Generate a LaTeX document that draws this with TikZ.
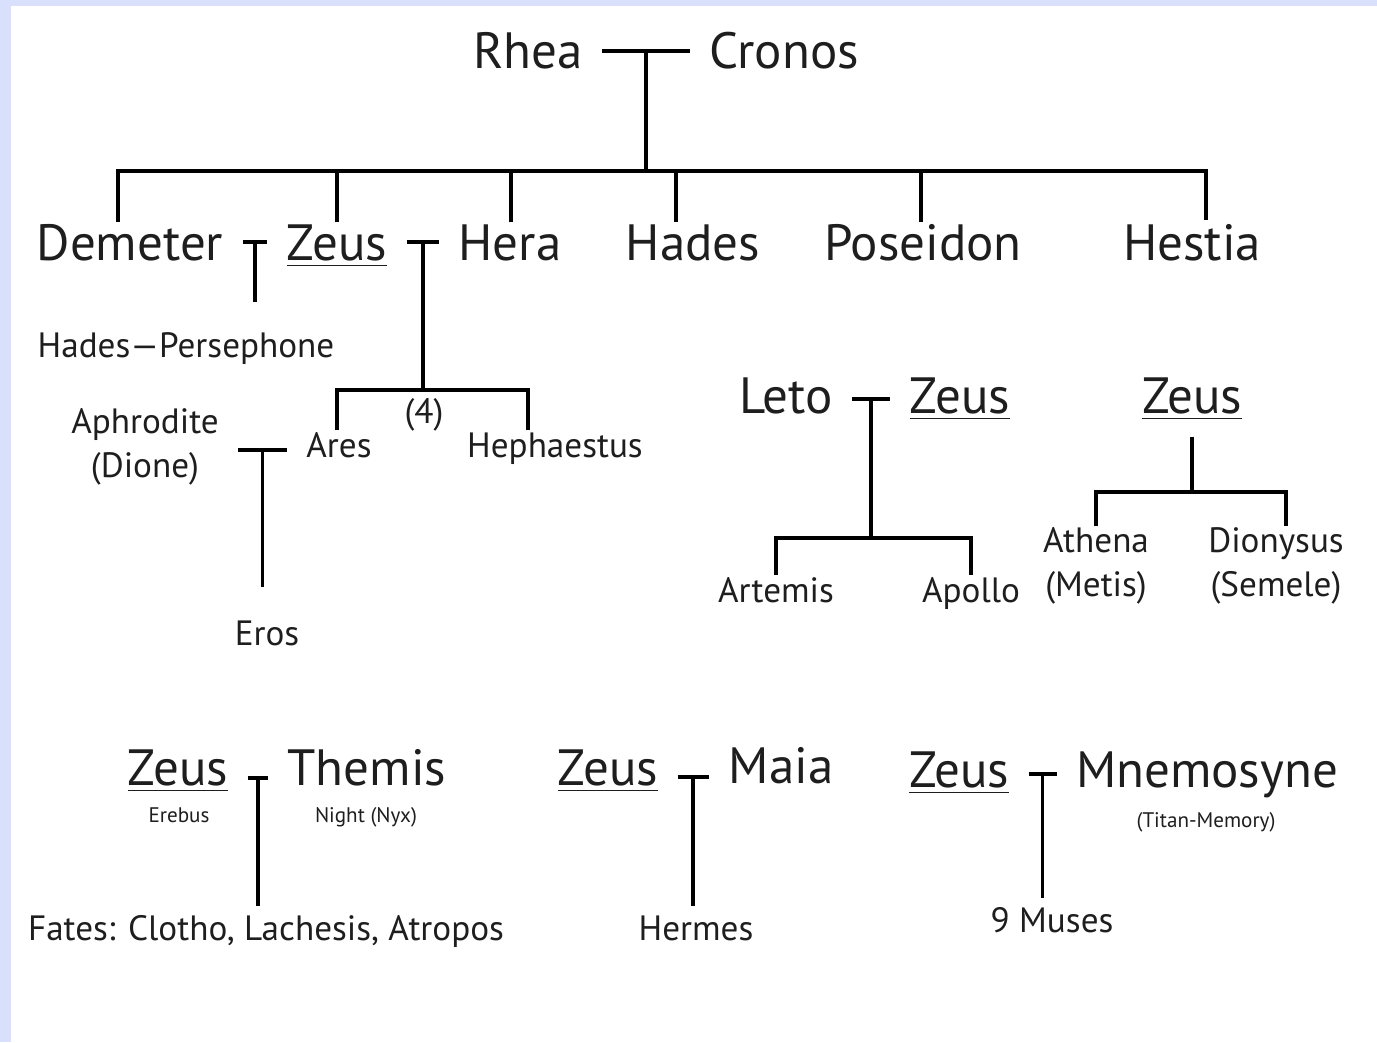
\documentclass[tikz,border=0pt]{standalone}
\usepackage{fontspec}
\setmainfont{PT Sans}
\usetikzlibrary{calc}
\definecolor{cornice}{RGB}{216,224,252}
\definecolor{inchiostro}{RGB}{30,30,30}

\begin{document}
\begin{tikzpicture}[x=0.01cm,y=-0.01cm,line width=1.1pt,
    titan/.style={font=\fontsize{14.5}{17}\selectfont,text=inchiostro,anchor=base,inner sep=0pt},
    kin/.style={font=\fontsize{10}{12.5}\selectfont,text=inchiostro,anchor=base,inner sep=0pt},
    aside/.style={font=\fontsize{6}{7}\selectfont,text=inchiostro,anchor=base,inner sep=0pt},
    wed/.style={shorten <=5pt,shorten >=5pt}]
  \useasboundingbox (0,0) rectangle (1377,1042);
  \fill[cornice] (0,0) rectangle (1377,1042); %cornice
  \fill[white] (11,6) rectangle (1377,1042);

  % Rhea e Cronos
  \node[titan] (rhea) at (528,68) {Rhea};
  \node[titan] (cronos) at (784,68) {Cronos};
  \coordinate (bar) at (641,171);
  \node[titan] (demeter) at (130,260) {Demeter};
  \node[titan] (zeus) at (337,260) {\underline{Zeus}};
  \node[titan] (hera) at (510,260) {Hera};
  \node[titan] (hades) at (693,260) {Hades};
  \node[titan] (poseidon) at (923,260) {Poseidon};
  \node[titan] (hestia) at (1192,260) {Hestia};
  \coordinate (rc) at ($(rhea.mid east)!.5!(cronos.mid west)+(0,-8)$);
  \draw[wed] (rc -| rhea.east) -- (rc -| cronos.west);
  \draw (rc) -- (rc |- bar);
  \draw ($(demeter.north)+(-12,0)$) |- (bar) -| ($(hestia.north)+(14,-2)$);
  \foreach \g/\dx in {zeus/0,hera/1,hades/-17,poseidon/-2}
    \draw ($(\g.north)+(\dx,0)$) |- (bar);

  % Demeter e Zeus
  \node[kin] (hp) at (186,357) {Hades---Persephone};
  \coordinate (dz) at ($(demeter.mid east)!.5!(zeus.mid west)+(0,-9)$);
  \draw[wed] (dz -| demeter.east) -- (dz -| zeus.west);
  \draw[shorten >=8pt] (dz) -- (dz |- hp.north);

  % Zeus e Hera
  \node[kin] (ares) at (339,457) {Ares};
  \node[kin] (heph) at (555,457) {Hephaestus};
  \node[kin] (four) at (424,423) {(4)};
  \coordinate (br1) at (424,390);
  \coordinate (zh) at ($(zeus.mid east)!.5!(hera.mid west)+(0,-9)$);
  \draw[wed] (zh -| zeus.east) -- (zh -| hera.west);
  \draw (zh) -- (zh |- br1);
  \draw ($(ares.north)+(-2,0)$) |- (br1) -| ($(heph.north)+(-27,0)$);

  % Aphrodite e Ares
  \node[kin,align=center,anchor=center] (aphro) at (145,447) {Aphrodite\\(Dione)};
  \node[kin] (eros) at (267,645) {Eros};
  \coordinate (aa) at ($(aphro.east)!.5!(aphro.east -| ares.west)+(0,3)$);
  \draw[wed] (aa -| aphro.east) -- (aa -| ares.west);
  \draw[shorten >=9pt] (aa) -- (aa |- eros.north);

  % Leto e Zeus
  \node[titan] (leto) at (786,413) {Leto};
  \node[titan] (zeusL) at (960,413) {\underline{Zeus}};
  \node[kin] (artemis) at (776,602) {Artemis};
  \node[kin] (apollo) at (971,602) {Apollo};
  \coordinate (br2) at (871,538);
  \coordinate (lz) at ($(leto.mid east)!.5!(zeusL.mid west)+(0,-5)$);
  \draw[wed] (lz -| leto.east) -- (lz -| zeusL.west);
  \draw (lz) -- (lz |- br2);
  \draw (artemis.north) |- (br2) -| (apollo.north);

  % Zeus, Athena e Dionysus
  \node[titan] (zeusR) at (1192,413) {\underline{Zeus}};
  \node[kin,align=center,anchor=center] (athena) at (1096,566) {Athena\\(Metis)};
  \node[kin,align=center,anchor=center] (diony) at (1276,566) {Dionysus\\(Semele)};
  \coordinate (br3) at (1192,492);
  \draw[shorten <=4pt] (zeusR.south) -- (zeusR.south |- br3);
  \draw (athena.north) |- (br3) -| ($(diony.north)+(10,0)$);

  % Zeus e Themis
  \node[titan] (zeusT) at (178,785) {\underline{Zeus}};
  \node[titan] (themis) at (367,785) {Themis};
  \node[aside] (erebus) at (179,822) {Erebus};
  \node[aside] (nyx) at (366,822) {Night (Nyx)};
  \node[kin] (fates) at (266,940) {Fates: Clotho, Lachesis, Atropos};
  \coordinate (zt) at ($(zeusT.mid east)!.5!(themis.mid west)+(0,2)$);
  \draw[wed] (zt -| zeusT.east) -- (zt -| themis.west);
  \draw[shorten >=2pt] (zt) -- (zt |- fates.north);

  % Zeus e Maia
  \node[titan] (zeusM) at (608,785) {\underline{Zeus}};
  \node[titan] (maia) at (781,783) {Maia};
  \node[kin] (hermes) at (696,940) {Hermes};
  \coordinate (zm) at ($(zeusM.mid east)!.5!(maia.mid west)+(0,2)$);
  \draw[wed] (zm -| zeusM.east) -- (zm -| maia.west);
  \draw[shorten >=2pt] (zm) -- (zm |- hermes.north);

  % Zeus e Mnemosyne
  \node[titan] (zeusN) at (959,787) {\underline{Zeus}};
  \node[titan] (mnemo) at (1207,787) {Mnemosyne};
  \node[aside] (titan) at (1206,827) {(Titan-Memory)};
  \node[kin] (muses) at (1052,932) {9 Muses};
  \coordinate (zn) at ($(zeusN.mid east)!.5!(mnemo.mid west)+(0,-4)$);
  \draw[wed] (zn -| zeusN.east) -- (zn -| mnemo.west);
  \draw[shorten >=2pt] (zn) -- (zn |- muses.north);
\end{tikzpicture}
\end{document}
